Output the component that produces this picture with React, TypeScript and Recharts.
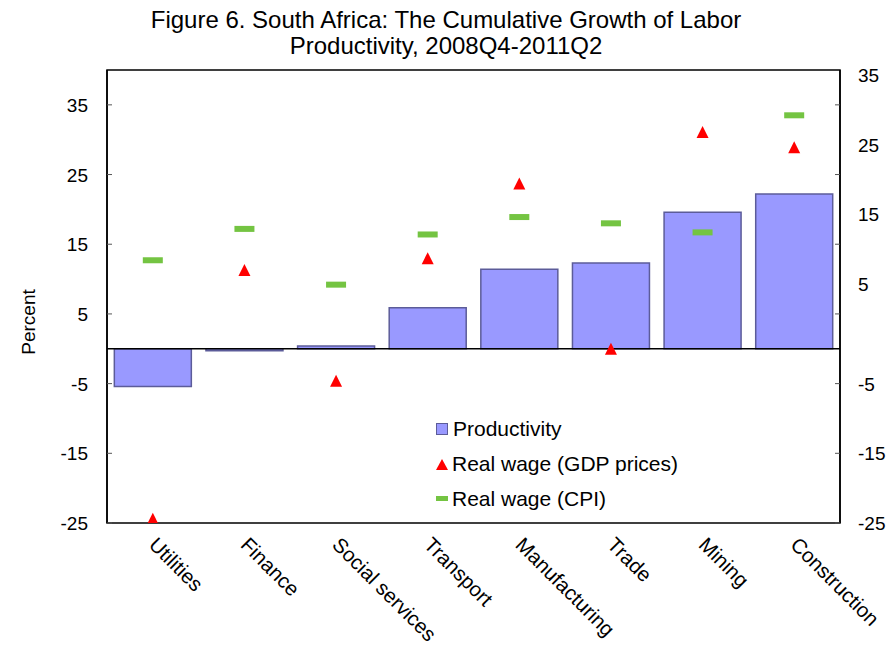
import React from 'react'
import {
  ComposedChart,
  Bar,
  Line,
  XAxis,
  YAxis,
  ReferenceLine,
  ReferenceArea,
} from 'recharts'

const categories = [
  'Utilities',
  'Finance',
  'Social services',
  'Transport',
  'Manufacturing',
  'Trade',
  'Mining',
  'Construction',
]
const productivity = [-5.4, -0.3, 0.4, 5.9, 11.4, 12.3, 19.6, 22.2]
const realWageGdp = [-24.4, 11.3, -4.6, 13.0, 23.7, 0.0, 31.1, 28.9]
const realWageCpi = [12.7, 17.2, 9.2, 16.4, 18.9, 18.0, 16.7, 33.5]
const yTicks = [-25, -15, -5, 5, 15, 25, 35]

const data = categories.map((name, i) => ({
  name,
  productivity: productivity[i],
  gdp: realWageGdp[i],
  cpi: realWageCpi[i],
}))

const FONT = '"Liberation Sans", Arial, sans-serif'
const BAR_FILL = '#9999ff'
const BAR_STROKE = '#5c5c99'
const TRI_FILL = '#ff0000'
const DASH_FILL = '#74c442'

const Triangle = (props: any) => {
  const { cx, cy, index } = props
  if (cx == null || cy == null) return null
  return (
    <polygon
      key={`tri-${index}`}
      points={`${cx},${cy - 6} ${cx + 6},${cy + 6} ${cx - 6},${cy + 6}`}
      fill={TRI_FILL}
    />
  )
}

const Dash = (props: any) => {
  const { cx, cy, index } = props
  if (cx == null || cy == null) return null
  return (
    <rect
      key={`dash-${index}`}
      x={cx - 10}
      y={cy - 3}
      width={20}
      height={6}
      fill={DASH_FILL}
    />
  )
}

const CategoryTick = (props: any) => {
  const { x, y, payload } = props
  const tx = x - 5
  const ty = y + 3
  return (
    <text
      x={tx}
      y={ty}
      transform={`rotate(45 ${tx} ${ty})`}
      textAnchor="start"
      fontSize={20.5}
      fontFamily={FONT}
      fill="#000"
    >
      {payload.value}
    </text>
  )
}

const LeftTick = (props: any) => {
  const { x, y, payload } = props
  return (
    <text x={x} y={y} dy={7} textAnchor="end" fontSize={19} fontFamily={FONT} fill="#000">
      {payload.value}
    </text>
  )
}

// the right-hand labels sit higher than their ticks for positive values in the original
const RightTick = (props: any) => {
  const { x, y, payload } = props
  const shift = payload.value > 0 ? -30 : 0
  return (
    <text x={x} y={y + shift} dy={7} textAnchor="start" fontSize={19} fontFamily={FONT} fill="#000">
      {payload.value}
    </text>
  )
}

const ChartLegend = () => (
  <div
    style={{
      position: 'absolute',
      left: 436,
      top: 411,
      fontFamily: FONT,
      fontSize: 21,
      color: '#000',
      lineHeight: '35px',
    }}
  >
    <div style={{ display: 'flex', alignItems: 'center' }}>
      <span
        style={{
          display: 'inline-block',
          width: 10,
          height: 10,
          background: BAR_FILL,
          border: `1px solid ${BAR_STROKE}`,
          marginRight: 5,
        }}
      />
      Productivity
    </div>
    <div style={{ display: 'flex', alignItems: 'center' }}>
      <svg width={12} height={12} style={{ marginRight: 4 }}>
        <polygon points="6,1 12,12 0,12" fill={TRI_FILL} />
      </svg>
      Real wage (GDP prices)
    </div>
    <div style={{ display: 'flex', alignItems: 'center' }}>
      <span
        style={{
          display: 'inline-block',
          width: 12,
          height: 5,
          background: DASH_FILL,
          marginRight: 4,
        }}
      />
      Real wage (CPI)
    </div>
  </div>
)

export default function App() {
  return (
    <div style={{ position: 'absolute', left: 0, top: 0, width: 892, height: 654, background: '#fff' }}>
      <div
        style={{
          position: 'absolute',
          left: 0,
          top: 7,
          width: 892,
          textAlign: 'center',
          fontFamily: FONT,
          fontSize: 24,
          lineHeight: '26px',
          color: '#000',
        }}
      >
        Figure 6. South Africa: The Cumulative Growth of Labor
        <br />
        Productivity, 2008Q4-2011Q2
      </div>
      <div
        style={{
          position: 'absolute',
          left: 29,
          top: 322,
          transform: 'translate(-50%, -50%) rotate(-90deg)',
          fontFamily: FONT,
          fontSize: 19,
          color: '#000',
          whiteSpace: 'nowrap',
        }}
      >
        Percent
      </div>
      <ComposedChart
        width={892}
        height={654}
        data={data}
        margin={{ top: 70, right: 0, bottom: 0, left: 0 }}
        barCategoryGap="8%"
      >
        <XAxis
          dataKey="name"
          interval={0}
          height={131}
          axisLine={false}
          tickLine={false}
          tick={<CategoryTick />}
          tickMargin={14}
        />
        <YAxis
          yAxisId="left"
          width={107}
          domain={[-25, 40]}
          ticks={yTicks}
          allowDataOverflow
          axisLine={{ stroke: '#000', strokeWidth: 1.5 }}
          tickLine={{ stroke: '#555' }}
          tickSize={-5}
          tickMargin={24}
          tick={<LeftTick />}
        />
        <YAxis
          yAxisId="right"
          orientation="right"
          width={52}
          domain={[-25, 40]}
          ticks={yTicks}
          allowDataOverflow
          axisLine={{ stroke: '#000', strokeWidth: 1.5 }}
          tickLine={{ stroke: '#555' }}
          tickSize={-5}
          tickMargin={23}
          tick={<RightTick />}
        />
        <ReferenceArea
          yAxisId="left"
          y1={-25}
          y2={40}
          fill="none"
          fillOpacity={0}
          stroke="#000"
          strokeWidth={1.5}
        />
        <Bar
          yAxisId="left"
          dataKey="productivity"
          fill={BAR_FILL}
          stroke={BAR_STROKE}
          strokeWidth={1.5}
          isAnimationActive={false}
        />
        <ReferenceLine yAxisId="left" y={0} stroke="#000" strokeWidth={1.5} />
        <Line
          yAxisId="left"
          dataKey="cpi"
          stroke="none"
          dot={<Dash />}
          activeDot={false}
          isAnimationActive={false}
        />
        <Line
          yAxisId="left"
          dataKey="gdp"
          stroke="none"
          dot={<Triangle />}
          activeDot={false}
          isAnimationActive={false}
        />
      </ComposedChart>
      <ChartLegend />
    </div>
  )
}
